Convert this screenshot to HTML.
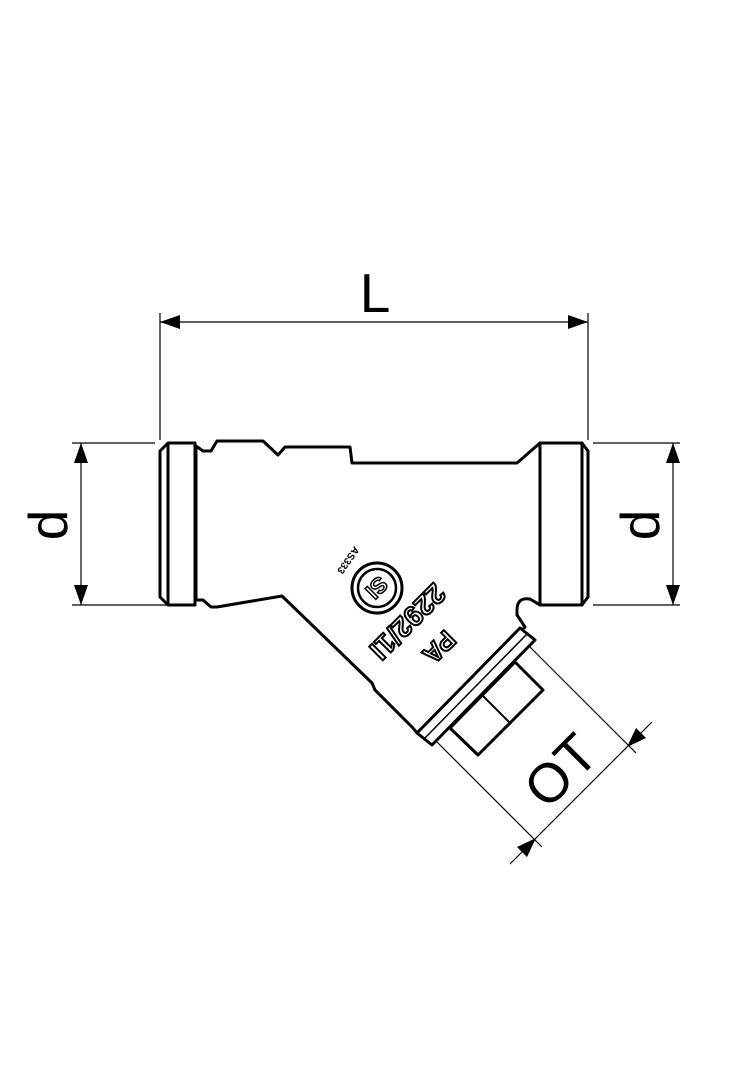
<!DOCTYPE html>
<html><head><meta charset="utf-8"><style>html,body{margin:0;padding:0;background:#fff}svg{display:block}</style></head>
<body>
<svg width="756" height="1080" viewBox="0 0 756 1080" xmlns="http://www.w3.org/2000/svg">
<defs>
<marker id="a" markerWidth="20" markerHeight="14" refX="20" refY="7" orient="auto" markerUnits="userSpaceOnUse"><path d="M0,0 L20,7 L0,14 Z" fill="#000"/></marker>
</defs>
<g stroke="#000" stroke-width="1.2" fill="none">
<line x1="160" y1="313" x2="160" y2="440"/>
<line x1="588" y1="313" x2="588" y2="440"/>
<line x1="300" y1="322" x2="160" y2="322" marker-end="url(#a)"/>
<line x1="300" y1="322" x2="588" y2="322" marker-end="url(#a)"/>
<line x1="72" y1="443" x2="155" y2="443"/>
<line x1="72" y1="605" x2="168" y2="605"/>
<line x1="81" y1="524" x2="81" y2="443" marker-end="url(#a)"/>
<line x1="81" y1="524" x2="81" y2="605" marker-end="url(#a)"/>
<line x1="593" y1="443" x2="680" y2="443"/>
<line x1="593" y1="605" x2="680" y2="605"/>
<line x1="673" y1="524" x2="673" y2="443" marker-end="url(#a)"/>
<line x1="673" y1="524" x2="673" y2="605" marker-end="url(#a)"/>
<line x1="530" y1="647" x2="636" y2="753"/>
<line x1="437" y1="742" x2="542" y2="847"/>
<line x1="652" y1="722" x2="510" y2="864"/>
</g>
<path d="M627,747 L646,738 L636,728 Z" fill="#000"/>
<path d="M536,838 L527,857 L517,847 Z" fill="#000"/>
<g stroke="#000" stroke-width="3" fill="#fff" stroke-linejoin="round">
<path d="M196,446 L203,451 L211,451 L217,441 L263,441 L278,455 L285,447 L350,447 L352,463 L517,463 L540,443 L540,605 L530,599 Q517,597 517,610 L517,615 L525,627 L417,733 L413,728 L375,690 L372,683 L282,596 L217,607 L211,607 L203,600 L196,600 Z"/>
<path d="M168,443 L195,443 L195,605 L168,605 L160,597 L160,451 Z"/>
<line x1="168" y1="443" x2="168" y2="605"/>
<path d="M540,443 L582,443 L588,451 L588,597 L582,605 L540,605 Z"/>
<line x1="582" y1="443" x2="582" y2="605"/>
<path d="M515,662 L543,690 L478,755 L450,728 Z"/>
<line x1="482" y1="695" x2="510" y2="723" stroke-width="2"/>
<path d="M520,628 L535,640 L432,745 L417,733 Z"/>
<line x1="527" y1="634" x2="424" y2="739" stroke-width="1.5"/>
<circle cx="377" cy="588" r="25"/>
<circle cx="377" cy="588" r="19" stroke-width="2.5"/>
</g>
<text x="377" y="596" font-family="Liberation Sans, sans-serif" font-weight="bold" font-size="22" text-anchor="middle" fill="#fff" stroke="#000" stroke-width="1.5" transform="rotate(135 377 588)">SI</text>
<g font-family="Liberation Sans, sans-serif" font-weight="bold" fill="#fff" stroke="#000" stroke-width="2" text-anchor="middle">
<text x="408" y="632" font-size="28" transform="rotate(135 408 622)">2292/1I</text>
<text x="440" y="658" font-size="26" transform="rotate(135 440 648)">PA</text>
</g>
<text x="348" y="563" font-family="Liberation Sans, sans-serif" font-weight="bold" font-size="10" text-anchor="middle" transform="rotate(125 348 560)">AS333</text>
<g font-family="Liberation Sans, sans-serif" font-size="55" fill="#000" text-anchor="middle">
<text x="375" y="312">L</text>
<text x="0" y="0" transform="translate(67,525) rotate(-90)">d</text>
<text x="0" y="0" transform="translate(659,525) rotate(-90)">d</text>
<text x="0" y="0" transform="translate(574,784) rotate(-45)">OT</text>
</g>
</svg>
</body></html>
